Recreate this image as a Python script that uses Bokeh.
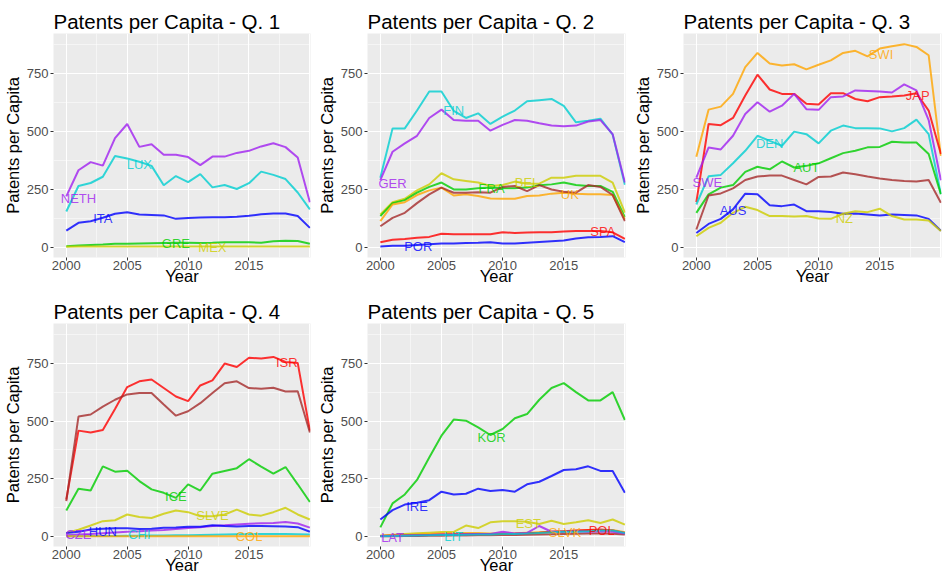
from bokeh.plotting import figure
from bokeh.layouts import column, row
from bokeh.models import Range1d, FixedTicker
from bokeh.core.properties import value
from bokeh.embed import file_html
from bokeh.resources import INLINE

years = [2000, 2001, 2002, 2003, 2004, 2005, 2006, 2007, 2008, 2009, 2010,
         2011, 2012, 2013, 2014, 2015, 2016, 2017, 2018, 2019, 2020]
x_ticks = [2000, 2005, 2010, 2015]
x_grid = [2000, 2005, 2010, 2015, 2020]
y_ticks = [0, 250, 500, 750]

# ---- Q1 ----
neth = [220, 333, 368, 353, 472, 533, 434, 445, 400, 400, 390, 355, 392, 392, 408, 417, 436, 450, 433, 388, 195]
lux = [155, 265, 278, 305, 395, 384, 370, 352, 268, 308, 282, 316, 259, 269, 252, 277, 327, 313, 295, 237, 164]
ita = [72, 106, 113, 128, 145, 152, 142, 140, 138, 123, 127, 129, 130, 130, 132, 136, 143, 146, 146, 135, 84]
gre = [5, 8, 10, 12, 15, 15, 17, 18, 19, 20, 20, 19, 20, 22, 22, 22, 20, 26, 28, 27, 15]
mex = [2, 3, 3, 3, 4, 4, 4, 4, 4, 4, 4, 4, 4, 4, 4, 4, 4, 4, 4, 4, 3]
q1_labels = ["NETH", "LUX", "ITA", "GRE", "MEX"]
q1_label_x = [2001.0, 2006.0, 2003.0, 2009.0, 2012.0]
q1_label_y = [211, 359, 126, 17, 1]

# ---- Q2 ----
fin = [301, 514, 514, 591, 673, 673, 590, 559, 579, 533, 565, 591, 631, 636, 641, 611, 540, 547, 556, 487, 270]
ger = [290, 413, 449, 482, 559, 595, 550, 547, 547, 504, 529, 550, 547, 536, 526, 523, 526, 544, 550, 489, 280]
bel = [142, 195, 210, 246, 272, 320, 294, 287, 280, 265, 269, 284, 275, 275, 301, 301, 309, 309, 309, 280, 150]
fra = [135, 191, 204, 236, 261, 280, 250, 250, 255, 258, 255, 255, 258, 268, 272, 280, 269, 265, 265, 240, 130]
uk = [113, 185, 195, 226, 246, 258, 224, 229, 222, 211, 210, 210, 222, 224, 232, 236, 232, 229, 229, 226, 120]
q2_other = [91, 127, 149, 191, 229, 258, 236, 236, 238, 236, 261, 265, 243, 269, 250, 240, 236, 269, 261, 226, 113]
spa = [22, 33, 36, 41, 45, 59, 56, 56, 56, 56, 65, 62, 64, 65, 65, 68, 71, 71, 70, 65, 36]
por = [4, 7, 7, 10, 13, 16, 17, 19, 20, 22, 16, 17, 20, 23, 26, 29, 38, 43, 45, 48, 22]
q2_labels = ["FIN", "GER", "BEL", "FRA", "UK", "SPA", "POR"]
q2_label_x = [2006.0, 2001.0, 2012.0, 2009.1, 2015.5, 2018.2, 2003.1]
q2_label_y = [591, 277, 279, 253, 229, 68, 4]

# ---- Q3 ----
swi = [391, 595, 608, 663, 779, 840, 794, 786, 791, 769, 789, 808, 840, 849, 825, 859, 869, 878, 866, 830, 395]
jap = [195, 533, 528, 559, 656, 746, 682, 663, 663, 620, 617, 666, 666, 641, 631, 649, 652, 656, 666, 591, 403]
swe = [301, 431, 423, 482, 576, 627, 586, 612, 663, 597, 594, 649, 652, 678, 676, 673, 669, 704, 678, 550, 290]
den = [185, 307, 313, 363, 417, 482, 460, 439, 500, 489, 449, 504, 526, 515, 515, 514, 501, 515, 552, 489, 230]
aut = [149, 229, 258, 269, 326, 348, 337, 371, 345, 352, 363, 385, 407, 417, 432, 434, 456, 453, 453, 403, 230]
q3_other = [77, 224, 233, 255, 291, 306, 310, 310, 291, 272, 304, 306, 323, 316, 306, 297, 291, 287, 284, 291, 193]
aus = [62, 101, 123, 164, 232, 229, 182, 178, 185, 156, 156, 153, 145, 146, 142, 138, 142, 140, 138, 123, 72]
nz = [48, 84, 106, 149, 175, 161, 135, 135, 133, 135, 125, 123, 145, 156, 152, 167, 135, 120, 120, 116, 70]
q3_labels = ["SWI", "JAP", "SWE", "DEN", "AUT", "AUS", "NZ"]
q3_label_x = [2015.1, 2018.1, 2000.9, 2006.0, 2009.0, 2003.0, 2012.1]
q3_label_y = [834, 656, 280, 449, 345, 161, 125]

# ---- Q4 ----
isr = [160, 459, 451, 462, 553, 648, 673, 681, 644, 607, 587, 655, 677, 750, 735, 775, 772, 779, 757, 753, 459]
q4_other = [153, 520, 529, 563, 593, 616, 622, 622, 572, 524, 543, 578, 622, 665, 673, 644, 641, 645, 629, 630, 451]
ice = [112, 207, 199, 304, 281, 285, 240, 204, 189, 167, 226, 199, 272, 284, 296, 335, 303, 272, 301, 226, 149]
slve = [15, 29, 47, 66, 70, 95, 84, 80, 98, 112, 105, 87, 87, 95, 116, 95, 90, 105, 124, 95, 73]
cze = [5, 8, 10, 14, 17, 20, 22, 25, 28, 32, 36, 40, 45, 48, 52, 55, 57, 58, 62, 56, 38]
hun = [15, 20, 30, 33, 35, 35, 32, 33, 37, 38, 42, 42, 48, 45, 43, 45, 45, 44, 43, 40, 20]
chi = [1, 1, 2, 2, 2, 3, 3, 4, 4, 5, 5, 6, 7, 8, 9, 10, 10, 10, 10, 9, 8]
col = [1, 1, 1, 1, 1, 1, 1, 1, 1, 1, 1, 1, 1, 1, 1, 1, 1, 1, 1, 1, 1]
q4_labels = ["ISR", "ICE", "SLVE", "HUN", "CZE", "CHI", "COL"]
q4_label_x = [2018.1, 2009.0, 2012.0, 2003.0, 2001.0, 2006.0, 2015.0]
q4_label_y = [753, 172, 90, 19, 7, 7, 0]

# ---- Q5 ----
kor = [39, 143, 182, 245, 342, 437, 507, 502, 473, 440, 466, 513, 531, 593, 644, 665, 626, 590, 590, 626, 505]
ire = [73, 114, 138, 146, 157, 194, 182, 185, 207, 197, 201, 194, 226, 237, 262, 288, 291, 304, 284, 284, 189]
est = [3, 7, 10, 13, 16, 19, 19, 47, 36, 61, 66, 66, 63, 54, 68, 54, 61, 70, 58, 73, 51]
slvk = [3, 5, 6, 8, 10, 12, 14, 15, 15, 12, 12, 14, 16, 18, 20, 22, 24, 26, 28, 28, 18]
pol = [2, 3, 4, 5, 6, 7, 8, 9, 10, 10, 10, 11, 13, 16, 20, 22, 25, 28, 30, 25, 15]
lat = [2, 3, 4, 5, 6, 8, 8, 9, 10, 10, 20, 12, 15, 45, 20, 20, 22, 20, 22, 20, 12]
lit = [1, 2, 3, 4, 5, 6, 6, 7, 8, 8, 10, 10, 12, 15, 18, 20, 20, 22, 25, 25, 15]
q5_other = [1, 1, 2, 2, 3, 3, 4, 4, 5, 5, 6, 6, 7, 8, 9, 10, 11, 12, 12, 11, 8]
q5_labels = ["KOR", "IRE", "EST", "SLVK", "POL", "LAT", "LIT"]
q5_label_x = [2009.1, 2003.0, 2012.1, 2015.1, 2018.1, 2001.0, 2006.0]
q5_label_y = [430, 131, 55, 17, 26, -3, 0]

PURPLE = "#A020F0"; CYAN = "#00CED1"; BLUE = "#0000FF"; GREEN = "#00CD00"
YELLOW = "#CDCD00"; RED = "#FF0000"; ORANGE = "#FFA500"; BROWN = "#A52A2A"

FONT = "Liberation Sans"


def panel(title, series, labels, lx, ly, lcolors, width, height, bl, br, bt, bb):
    p = figure(width=width, height=height, output_backend="svg", toolbar_location=None,
               x_range=Range1d(1998.95, 2020.05), y_range=Range1d(-44, 924),
               min_border_left=bl, min_border_right=br, min_border_top=bt,
               min_border_bottom=bb, title=title)
    p.background_fill_color = "#EBEBEB"
    p.border_fill_color = "white"
    p.outline_line_color = None
    p.title.text_font = FONT
    p.title.text_font_size = "20.5px"
    p.title.text_font_style = "normal"
    p.title.text_color = "black"
    p.title.standoff = 2
    p.title.offset = 0
    xt = FixedTicker(ticks=x_ticks)
    xg = FixedTicker(ticks=x_grid, minor_ticks=[2002.5, 2007.5, 2012.5, 2017.5])
    yt = FixedTicker(ticks=y_ticks, minor_ticks=[125, 375, 625, 875])
    p.xaxis.ticker = xt
    p.yaxis.ticker = yt
    p.xgrid.ticker = xg
    p.ygrid.ticker = yt
    for g in (p.xgrid, p.ygrid):
        g.grid_line_color = "white"
        g.grid_line_width = 1.1
        g.minor_grid_line_color = "white"
        g.minor_grid_line_width = 0.5
    for ax in (p.xaxis, p.yaxis):
        ax.axis_line_color = None
        ax.major_tick_line_color = "#333333"
        ax.major_tick_out = 3
        ax.major_tick_in = 0
        ax.minor_tick_out = 0
        ax.minor_tick_in = 0
        ax.major_label_text_font = FONT
        ax.major_label_text_font_size = "13px"
        ax.major_label_text_color = "#4D4D4D"
        ax.major_label_standoff = 2
        ax.axis_label_text_font = FONT
        ax.axis_label_text_font_size = "16.5px"
        ax.axis_label_text_font_style = "normal"
        ax.axis_label_text_color = "black"
        ax.axis_label_standoff = 2
    p.xaxis.axis_label = "Year"
    p.yaxis.axis_label = "Patents per Capita"
    p.xaxis.major_label_standoff = 0
    p.xaxis.axis_label_standoff = -6
    for vals, colr in series:
        p.line(years, vals, line_color=colr, line_width=2, line_alpha=0.8)
    p.text(x=lx, y=ly, text=labels, text_color=lcolors, text_alpha=0.8,
           text_font=value(FONT), text_font_size="13px",
           text_align="center", text_baseline="middle")
    return p


p1 = panel("Patents per Capita - Q. 1",
           [(neth, PURPLE), (lux, CYAN), (ita, BLUE), (gre, GREEN), (mex, YELLOW)],
           q1_labels, q1_label_x, q1_label_y, [PURPLE, CYAN, BLUE, GREEN, YELLOW],
           312, 290, 53, 2, 33, 33)
p2 = panel("Patents per Capita - Q. 2",
           [(fin, CYAN), (ger, PURPLE), (bel, YELLOW), (fra, GREEN), (uk, ORANGE),
            (q2_other, BROWN), (spa, RED), (por, BLUE)],
           q2_labels, q2_label_x, q2_label_y, [CYAN, PURPLE, YELLOW, GREEN, ORANGE, RED, BLUE],
           315, 290, 55, 2, 33, 33)
p3 = panel("Patents per Capita - Q. 3",
           [(swi, ORANGE), (jap, RED), (swe, PURPLE), (den, CYAN), (aut, GREEN),
            (q3_other, BROWN), (aus, BLUE), (nz, YELLOW)],
           q3_labels, q3_label_x, q3_label_y, [ORANGE, RED, PURPLE, CYAN, GREEN, BLUE, YELLOW],
           315, 290, 56, 1, 33, 33)
p4 = panel("Patents per Capita - Q. 4",
           [(isr, RED), (q4_other, BROWN), (ice, GREEN), (slve, YELLOW), (cze, PURPLE),
            (hun, BLUE), (chi, CYAN), (col, ORANGE)],
           q4_labels, q4_label_x, q4_label_y, [RED, GREEN, YELLOW, BLUE, PURPLE, CYAN, ORANGE],
           312, 286, 53, 2, 33, 29)
p5 = panel("Patents per Capita - Q. 5",
           [(kor, GREEN), (ire, BLUE), (est, YELLOW), (q5_other, BROWN), (slvk, ORANGE),
            (pol, RED), (lat, PURPLE), (lit, CYAN)],
           q5_labels, q5_label_x, q5_label_y, [GREEN, BLUE, YELLOW, ORANGE, RED, PURPLE, CYAN],
           315, 286, 55, 2, 33, 29)

layout = column(row(p1, p2, p3), row(p4, p5))
open("out.html", "w").write(file_html(layout, INLINE))
